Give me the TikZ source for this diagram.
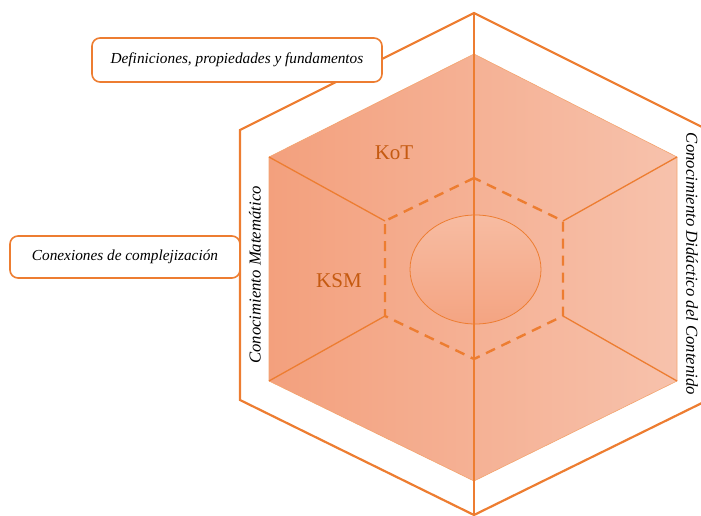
\documentclass[tikz,border=0pt]{standalone}
\usepackage{fontspec}
\setmainfont{Liberation Serif}
\definecolor{hexline}{RGB}{237,125,49}
\definecolor{kotred}{RGB}{197,90,17}
\definecolor{fillleft}{RGB}{243,160,125}
\definecolor{fillright}{RGB}{247,194,172}
\definecolor{circtop}{RGB}{247,188,162}
\definecolor{circbot}{RGB}{244,164,130}
\tikzset{
	box/.style={draw=hexline, line width=1.6pt, fill=white, rounded corners=8pt, inner sep=0pt, font=\itshape\fontsize{15.3}{18}\selectfont},
	side/.style={font=\itshape\fontsize{16.7}{19}\selectfont, inner sep=0pt},
	kname/.style={text=kotred, font=\fontsize{21}{24}\selectfont}
}

\begin{document}
\begin{tikzpicture}[x=1pt, y=-1pt]
			\useasboundingbox (0,0) rectangle (701,516);
			\coordinate (O1) at (474,13);
			\coordinate (O2) at (240,130);
			\coordinate (O3) at (240,400);
			\coordinate (O4) at (474,515);
			\coordinate (O5) at (708,400);
			\coordinate (O6) at (708,130);
			\coordinate (I1) at (474,54);
			\coordinate (I2) at (269,157);
			\coordinate (I3) at (269,381);
			\coordinate (I4) at (474,481);
			\coordinate (I5) at (677,381);
			\coordinate (I6) at (677,157);
			\coordinate (D1) at (474,178);
			\coordinate (D2) at (385,221);
			\coordinate (D3) at (385,316);
			\coordinate (D4) at (474,359);
			\coordinate (D5) at (563,316);
			\coordinate (D6) at (563,221);
			\draw[hexline, line width=2.2pt] (O1) -- (O2) -- (O3) -- (O4) -- (O5) -- (O6) -- cycle;
			\shade[left color=fillleft, right color=fillright] (I1) -- (I2) -- (I3) -- (I4) -- (I5) -- (I6) -- cycle;
			\draw[hexline!70, line width=0.6pt] (I1) -- (I2) -- (I3) -- (I4) -- (I5) -- (I6) -- cycle;
			\draw[hexline, line width=1.3pt] (I2) -- (D2);
			\draw[hexline, line width=1.3pt] (I3) -- (D3);
			\draw[hexline, line width=1.3pt] (I5) -- (D5);
			\draw[hexline, line width=1.3pt] (I6) -- (D6);
			\shade[top color=circtop, bottom color=circbot, draw=hexline, line width=0.8pt] (475.5,269.5) ellipse [x radius=65.5pt, y radius=54.5pt];
			\draw[hexline, line width=2.4pt, dash pattern=on 10pt off 7pt] (D1) -- (D2) -- (D3) -- (D4) -- (D5) -- (D6) -- cycle;
			\draw[hexline, line width=1.5pt] (O1) -- (O4);
			\node[box, minimum width=290pt, minimum height=44pt] (DEF) at (237,60) {Definiciones, propiedades y fundamentos};
			\node[box, minimum width=230pt, minimum height=42pt] (CON) at (125,257) {Conexiones de complejización\hspace{9pt}};
			\node[kname] (KOT) at (394,153) {KoT};
			\node[kname] (KSM) at (339,281) {KSM};
			\node[side, rotate=90] (CM) at (255,275) {Conocimiento Matemático};
			\node[side, rotate=-90] (CDC) at (692,264) {Conocimiento Didáctico del Contenido};
		\end{tikzpicture}
\end{document}
